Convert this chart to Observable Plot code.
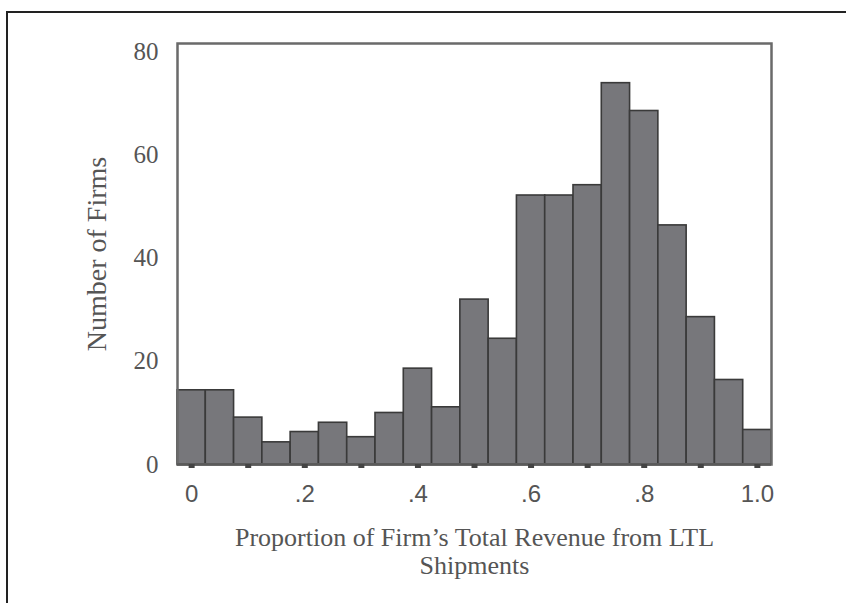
<!DOCTYPE html>
<html>
<head>
<meta charset="utf-8">
<script src="https://cdn.jsdelivr.net/npm/d3@7"></script>
<script src="https://cdn.jsdelivr.net/npm/@observablehq/plot@0.6"></script>
<style>
  html, body { margin: 0; padding: 0; background: #fff; }
  #wrap { position: relative; width: 846px; height: 603px; overflow: hidden; }
  #border { position: absolute; left: 6px; top: 11px; right: -4px; bottom: -4px;
            border-top: 2.5px solid #222; border-left: 2.5px solid #222; }
  #chart { position: absolute; left: 0; top: 0; }
</style>
</head>
<body>
<div id="wrap"><div id="border"></div><div id="chart"></div></div>
<script>
// Histogram bins (centers, width 0.05) and counts
const binCenters = [0, 0.05, 0.10, 0.15, 0.20, 0.25, 0.30, 0.35, 0.40, 0.45, 0.50,
                    0.55, 0.60, 0.65, 0.70, 0.75, 0.80, 0.85, 0.90, 0.95, 1.00];
const counts = [14.4, 14.4, 9.1, 4.3, 6.3, 8.1, 5.3, 10.0, 18.6, 11.1, 32.0,
                24.4, 52.2, 52.2, 54.2, 74.0, 68.6, 46.4, 28.6, 16.4, 6.7];
const binWidth = 0.05;

const xTickMarks = [0, 0.1, 0.2, 0.3, 0.4, 0.5, 0.6, 0.7, 0.8, 0.9, 1.0];
const xLabelValues = [0, 0.2, 0.4, 0.6, 0.8, 1.0];
const xLabelTexts = ["0", ".2", ".4", ".6", ".8", "1.0"];
const yTicks = [0, 20, 40, 60, 80];

const xTitleLine1 = "Proportion of Firm\u2019s Total Revenue from LTL";
const xTitleLine2 = "Shipments";
const yTitle = "Number of Firms";

const data = binCenters.map((c, i) => ({x1: c - binWidth / 2, x2: c + binWidth / 2, y: counts[i]}));

const serif = "'Liberation Serif', 'Times New Roman', serif";
const sans = "'Liberation Sans', Arial, sans-serif";

const chart = Plot.plot({
  width: 846,
  height: 603,
  marginLeft: 177,
  marginRight: 75,
  marginTop: 43,
  marginBottom: 139,
  style: {fontFamily: serif, fontSize: "25px", color: "#555", background: "transparent"},
  x: {domain: [-0.025, 1.025]},
  y: {domain: [0, 81.7]},
  marks: [
    Plot.rectY(data, {x1: "x1", x2: "x2", y: "y", fill: "#77777b", stroke: "#3a3a3a", strokeWidth: 1.6}),
    Plot.frame({stroke: "#6a6a6a", strokeWidth: 2.5}),
    Plot.ruleY([0], {stroke: "#5a5a5a", strokeWidth: 2.5}),
    Plot.axisX(xTickMarks, {tickSize: 4, stroke: "#444", strokeWidth: 6, tickFormat: () => "", label: null}),
    Plot.axisX(xLabelValues, {
      tickSize: 0, tickPadding: 20,
      tickFormat: (d) => xLabelTexts[xLabelValues.indexOf(d)],
      fontFamily: sans, fontSize: 24, fill: "#555", label: null
    }),
    Plot.axisX(xLabelValues, {
      tickSize: 0, tickFormat: () => "",
      fontFamily: serif, fontSize: 26, fill: "#555",
      label: xTitleLine1, labelAnchor: "center", labelOffset: 81, labelArrow: "none"
    }),
    Plot.axisX(xLabelValues, {
      tickSize: 0, tickFormat: () => "",
      fontFamily: serif, fontSize: 26, fill: "#555",
      label: xTitleLine2, labelAnchor: "center", labelOffset: 109, labelArrow: "none"
    }),
    Plot.axisY(yTicks, {
      tickSize: 0, tickPadding: 19, fontSize: 25, fill: "#555", label: null
    }),
    Plot.axisY(yTicks, {
      tickSize: 0, tickFormat: () => "", fontSize: 28, fill: "#555",
      label: yTitle, labelAnchor: "center", labelOffset: 91, labelArrow: "none"
    })
  ]
});
document.getElementById("chart").appendChild(chart);
</script>
</body>
</html>
